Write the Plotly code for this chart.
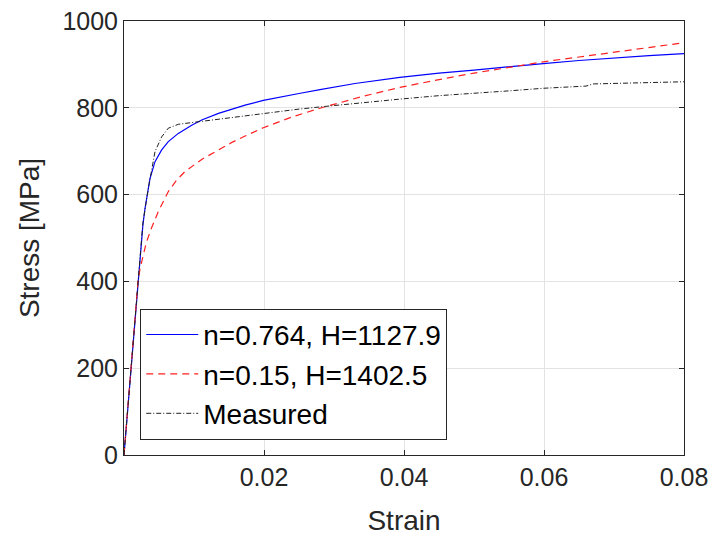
import plotly.graph_objects as go

# Fitted model 1: n=0.764, H=1127.9
strain_fit1 = [0, 0.001, 0.002, 0.0027, 0.0030, 0.00371, 0.00443, 0.00538, 0.00633, 0.00776,
               0.00967, 0.0111, 0.0135, 0.0155, 0.0173, 0.0199, 0.0225, 0.025, 0.028, 0.033,
               0.0394, 0.045, 0.05, 0.055, 0.0599, 0.065, 0.07, 0.075, 0.08]
stress_fit1 = [0, 200, 400, 530, 568, 637, 676, 703, 722, 741,
               760, 772, 787, 797, 806, 817, 826, 833, 842, 856,
               870, 880, 887, 895, 902, 909, 915, 920, 925]

# Fitted model 2: n=0.15, H=1402.5
strain_fit2 = [0, 0.001, 0.002, 0.0023, 0.0027, 0.0032, 0.0039, 0.0049, 0.00633, 0.0075,
               0.0087, 0.0111, 0.0135, 0.0155, 0.0173, 0.0199, 0.024, 0.028, 0.034, 0.0394,
               0.045, 0.05, 0.055, 0.0599, 0.065, 0.07, 0.075, 0.08]
stress_fit2 = [0, 200, 400, 430, 460, 490, 522, 561, 607, 633,
               653, 681, 703, 721, 735, 754, 779, 799, 826, 847,
               865, 880, 893, 906, 917, 928, 939, 950]

# Measured curve
strain_meas = [0, 0.001, 0.002, 0.0027, 0.00347, 0.00395, 0.00443, 0.00538, 0.00633, 0.00776,
               0.00967, 0.0125, 0.0173, 0.0199, 0.025, 0.028, 0.034, 0.0394, 0.045, 0.05,
               0.055, 0.0599, 0.066, 0.067, 0.072, 0.08]
stress_meas = [0, 200, 400, 535, 614, 660, 699, 733, 753, 762,
               766, 772, 782, 788, 797, 802, 812, 820, 828, 833,
               839, 845, 850, 855, 857, 860]

x_ticks = [0.02, 0.04, 0.06, 0.08]
x_ticklabels = ["0.02", "0.04", "0.06", "0.08"]
y_ticks = [0, 200, 400, 600, 800, 1000]

fig = go.Figure()
fig.add_trace(go.Scatter(x=strain_fit1, y=stress_fit1, mode="lines",
                         name="n=0.764, H=1127.9", legendgroup="a",
                         line=dict(color="#0000ff", width=1.2)))
fig.add_trace(go.Scatter(x=strain_fit2, y=stress_fit2, mode="lines",
                         name="n=0.15, H=1402.5", legendgroup="b",
                         line=dict(color="#ff2020", width=1.2, dash="7px,5px")))
fig.add_trace(go.Scatter(x=strain_meas, y=stress_meas, mode="lines",
                         name="Measured", legendgroup="c",
                         line=dict(color="#202020", width=1, dash="5px,2px,1px,2px")))

axis_common = dict(
    showline=True, linecolor="#262626", linewidth=1, mirror="ticks",
    ticks="inside", ticklen=5, tickcolor="#262626",
    showgrid=True, gridcolor="#e3e3e3", gridwidth=1,
    zeroline=False, automargin=False, ticklabeloverflow="allow",
    tickfont=dict(family="Liberation Sans, Arial", size=25, color="#262626"),
    title_font=dict(family="Liberation Sans, Arial", size=28, color="#262626"),
)

fig.update_layout(
    width=712, height=538,
    margin=dict(l=124, r=28, t=21, b=83),
    paper_bgcolor="white", plot_bgcolor="white",
    showlegend=True,
    legend=dict(
        x=0.029, y=0.035, xanchor="left", yanchor="bottom",
        bgcolor="white", bordercolor="#262626", borderwidth=1,
        font=dict(family="Liberation Sans, Arial", size=28, color="#000000"),
        tracegroupgap=0, itemwidth=52,
    ),
    xaxis=dict(range=[0, 0.08], tickvals=x_ticks, ticktext=x_ticklabels,
               title=dict(text="Strain", standoff=20), **axis_common),
    yaxis=dict(range=[0, 1000], tickvals=y_ticks,
               title=dict(text="Stress [MPa]", standoff=14), **axis_common),
)

fig.write_html("out.html",
               config={"displayModeBar": False},
               post_script="document.body.style.margin='0';document.body.style.overflow='hidden';")
